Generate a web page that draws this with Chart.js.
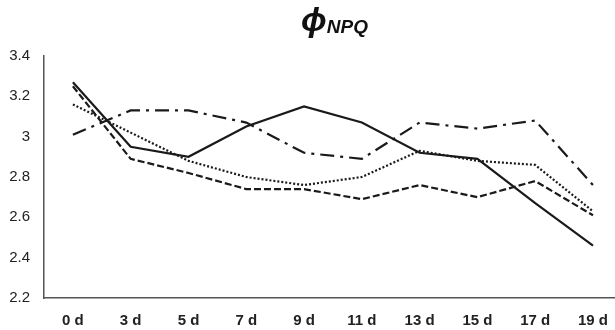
<!DOCTYPE html>
<html>
<head>
<meta charset="utf-8">
<script src="https://cdn.jsdelivr.net/npm/chart.js@4"></script>
<style>
  body { margin: 0; background: #fff; overflow: hidden; }
  #wrap { position: relative; width: 615px; height: 330px; overflow: hidden; }
  #title { position: absolute; left: 301px; top: 0px;
           font-family: 'Liberation Sans', Arial, sans-serif; font-weight: bold; font-style: italic;
           font-size: 34px; color: #111; white-space: nowrap; }
  #title sub { font-size: 19px; vertical-align: -2px; }
</style>
</head>
<body>
<div id="wrap">
  <canvas id="npqChart" width="622" height="344"></canvas>
  <div id="title">ϕ<sub>NPQ</sub></div>
</div>
<script>
// days of treatment
const days = ['0 d', '3 d', '5 d', '7 d', '9 d', '11 d', '13 d', '15 d', '17 d', '19 d'];

// four series
const solidLine = [3.27, 2.95, 2.90, 3.05, 3.15, 3.07, 2.92, 2.89, 2.67, 2.46];
const dashDotLine = [3.01, 3.13, 3.13, 3.07, 2.92, 2.89, 3.07, 3.04, 3.08, 2.76];
const dottedLine = [3.16, 3.02, 2.88, 2.80, 2.76, 2.80, 2.93, 2.88, 2.86, 2.63];
const dashedLine = [3.25, 2.89, 2.82, 2.74, 2.74, 2.69, 2.76, 2.70, 2.78, 2.61];

const yMin = 2.2;
const yMax = 3.4;
const yStep = 0.2;

document.addEventListener('DOMContentLoaded', function() {
    const ctx = document.getElementById('npqChart').getContext('2d');
    const ink = '#1a1a1a';

    new Chart(ctx, {
        type: 'line',
        data: {
            labels: days,
            datasets: [
                { data: solidLine, borderColor: ink, borderWidth: 2.2, borderDash: [] },
                { data: dashDotLine, borderColor: ink, borderWidth: 2.2, borderDash: [14, 6, 3, 6] },
                { data: dottedLine, borderColor: ink, borderWidth: 2.2, borderDash: [2, 2] },
                { data: dashedLine, borderColor: ink, borderWidth: 2.2, borderDash: [7, 3] }
            ]
        },
        options: {
            responsive: false,
            animation: false,
            elements: {
                point: { radius: 0 },
                line: { tension: 0, fill: false }
            },
            layout: { padding: { top: 56, right: 0, left: 0, bottom: 0 } },
            plugins: {
                legend: { display: false },
                title: { display: false },
                tooltip: { enabled: false }
            },
            scales: {
                x: {
                    offset: true,
                    grid: { display: false, drawTicks: false },
                    border: { color: '#555', width: 1.5 },
                    ticks: {
                        color: '#222',
                        padding: 14,
                        maxRotation: 0,
                        font: { family: 'Liberation Sans', size: 15, weight: 'bold' }
                    }
                },
                y: {
                    min: yMin,
                    max: yMax,
                    afterFit: function(axis) { axis.width = 44; },
                    grid: { display: false, drawTicks: false },
                    border: { color: '#555', width: 1.5 },
                    ticks: {
                        stepSize: yStep,
                        color: '#222',
                        padding: 14,
                        font: { family: 'Liberation Sans', size: 15 },
                        callback: function(v) { return String(Math.round(v * 10) / 10); }
                    }
                }
            }
        }
    });
});
</script>
</body>
</html>
